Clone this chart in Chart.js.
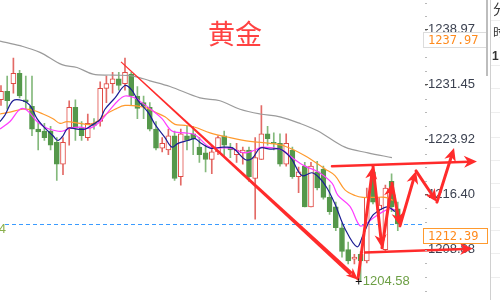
<!DOCTYPE html>
<html>
<head>
<meta charset="utf-8">
<script src="https://cdn.jsdelivr.net/npm/chart.js@4"></script>
<style>
  html, body { margin: 0; padding: 0; background: #fff; }
  #wrap { width: 500px; height: 300px; }
</style>
</head>
<body>
<div id="wrap"><canvas id="kline" width="500" height="300"></canvas></div>
<script>
// candle values, one entry per bar (oldest first)
const opens = [1229.40,1230.57,1231.61,1233.04,1229.40,1228.49,1225.38,1225.12,1225.12,1223.56,
  1220.57,1225.51,1228.36,1225.51,1224.21,1226.16,1226.42,1230.96,1231.61,1232.26,
  1231.61,1232.91,1229.92,1229.01,1228.36,1225.38,1222.78,1222.52,1224.47,1218.88,
  1224.47,1224.73,1222.91,1222.13,1221.22,1222.26,1224.47,1222.91,1221.87,1222.13,
  1222.52,1218.62,1221.22,1224.73,1223.56,1223.43,1220.57,1222.52,1218.88,1220.31,
  1214.73,1219.53,1219.92,1216.03,1214.73,1211.87,1208.88,1207.58,1208.23,1207.32,
  1219.53,1214.34,1208.88,1218.23,1214.47];
const closes = [1230.57,1229.27,1233.04,1229.92,1229.14,1225.38,1224.99,1224.21,1223.17,1220.57,
  1223.56,1228.36,1225.51,1224.47,1226.16,1225.90,1230.96,1231.61,1232.26,1231.35,
  1233.17,1229.92,1228.23,1228.49,1225.38,1222.78,1223.43,1224.47,1218.62,1224.73,
  1223.82,1224.08,1221.87,1221.22,1222.26,1224.21,1223.17,1222.52,1222.52,1222.52,
  1218.88,1221.48,1224.73,1224.08,1223.43,1220.57,1223.43,1218.88,1219.53,1214.73,
  1220.31,1217.32,1216.03,1214.08,1211.87,1208.62,1207.32,1207.84,1207.32,1216.03,
  1215.38,1214.99,1217.32,1214.73,1212.39];
const highs = [1231.35,1232.65,1235.12,1233.43,1232.65,1232.65,1226.42,1226.16,1225.77,1224.21,
  1224.21,1229.27,1229.40,1226.42,1227.45,1226.81,1231.87,1232.65,1233.17,1233.17,
  1235.12,1233.17,1231.22,1229.92,1229.01,1226.42,1224.21,1225.38,1225.12,1225.38,
  1225.77,1225.77,1224.21,1223.17,1223.17,1224.47,1225.12,1223.43,1223.43,1222.91,
  1222.91,1224.21,1228.62,1225.77,1224.86,1224.73,1224.73,1222.91,1220.18,1220.83,
  1220.83,1220.96,1220.31,1217.71,1215.38,1212.52,1209.92,1208.23,1208.62,1217.32,
  1220.05,1216.03,1217.71,1219.27,1215.38];
const lows = [1228.62,1228.10,1230.31,1229.66,1228.10,1224.47,1222.52,1223.82,1222.52,1218.36,
  1219.14,1223.17,1223.82,1223.82,1223.82,1225.38,1225.77,1229.01,1230.31,1230.70,
  1230.70,1228.62,1226.81,1226.81,1225.12,1222.52,1222.26,1221.87,1218.36,1217.71,
  1222.52,1221.87,1220.83,1219.53,1219.27,1221.87,1221.61,1221.48,1220.83,1220.57,
  1218.23,1213.04,1221.22,1223.17,1222.52,1220.31,1220.31,1218.62,1216.68,1214.73,
  1214.73,1217.06,1215.77,1213.69,1211.48,1207.84,1206.93,1206.93,1204.58,1207.06,
  1215.12,1213.69,1208.62,1214.08,1211.48];

// moving averages: [bar position, price]
const ma5 = [[-0.16,1226.42],[0.65,1227.32],[1.94,1229.27],[3.55,1229.27],[4.68,1228.62],[5.81,1226.81],
  [7.10,1225.51],[8.39,1224.47],[9.19,1223.82],[10.0,1224.47],[10.81,1225.51],[12.26,1225.38],
  [13.55,1225.38],[14.84,1226.03],[15.97,1226.68],[16.77,1228.10],[18.39,1229.66],[20.0,1231.35],
  [21.13,1230.70],[22.1,1229.27],[23.71,1227.71],[24.84,1226.03],[26.45,1224.21],[27.58,1222.91],
  [28.55,1223.43],[30.16,1223.82],[31.29,1224.08],[32.1,1223.56],[33.71,1222.78],[35.81,1222.91],
  [37.42,1222.78],[39.36,1221.22],[40.5,1221.35],[41.77,1222.78],[43.39,1222.65],[45.0,1222.65],
  [46.29,1221.87],[46.94,1221.22],[48.55,1219.01],[50.16,1219.40],[51.45,1218.62],[52.58,1217.32],
  [53.87,1215.12],[55.48,1211.74],[57.42,1209.27],[58.39,1210.83],[59.84,1213.43],[61.45,1214.47],
  [62.42,1214.73],[63.55,1214.08]];
const ma10 = [[-0.16,1225.38],[1.45,1226.42],[3.07,1228.10],[4.19,1227.97],[5.81,1226.42],[7.42,1225.51],
  [9.03,1225.12],[10.0,1225.12],[11.13,1225.51],[12.74,1225.64],[14.36,1225.51],[15.97,1226.42],
  [17.26,1227.71],[18.87,1229.27],[20.0,1229.92],[21.61,1229.66],[22.74,1229.01],[24.36,1227.97],
  [25.97,1226.81],[27.58,1225.12],[29.68,1224.86],[31.29,1224.60],[33.71,1222.91],[36.94,1222.78],
  [39.36,1222.13],[40.97,1222.52],[42.1,1222.91],[45.32,1222.52],[46.94,1221.48],[49.03,1220.31],
  [51.13,1219.53],[53.39,1217.97],[54.35,1216.30],[56.29,1214.80],[57.9,1212.13],[59.03,1212.52],
  [60.0,1213.17],[61.61,1214.08],[62.74,1214.47],[63.55,1214.34]];
const ma20 = [[-0.16,1227.45],[1.45,1227.71],[3.55,1228.10],[5.16,1227.97],[6.78,1227.45],[8.39,1226.81],
  [9.52,1226.16],[10.65,1226.42],[12.74,1226.16],[14.36,1226.03],[15.97,1226.68],[16.77,1227.32],
  [18.39,1228.10],[20.0,1228.62],[23.23,1228.36],[24.84,1227.71],[26.45,1227.06],[28.06,1226.03],
  [29.68,1225.90],[31.29,1225.64],[33.71,1224.86],[36.94,1224.21],[40.16,1223.69],[43.39,1223.43],
  [45.81,1223.04],[49.03,1221.74],[52.26,1219.92],[53.87,1219.01],[55.48,1217.06],[57.1,1216.29],
  [58.39,1216.03],[60.32,1216.03],[61.94,1216.03],[63.23,1215.64]];
const ma60 = [[-0.16,1237.45],[3.07,1236.81],[6.29,1235.90],[9.84,1234.21],[12.26,1233.82],[14.84,1232.91],
  [18.07,1232.78],[21.29,1232.65],[24.03,1232.0],[27.26,1231.22],[32.1,1229.66],[35.32,1229.27],
  [38.55,1228.10],[41.77,1227.45],[45.0,1227.06],[48.23,1226.16],[51.13,1225.12],[55.48,1222.91],
  [59.19,1222.13],[63.06,1221.48]];

const yTicks = [1208.88, 1216.40, 1223.92, 1231.45, 1238.97];
const lastPrice = 1212.39;
const refPrice = 1237.97;
const lowPrice = 1204.58;

// hand-drawn arrows, in bar position / price
const trendLine = [[19.36,1234.60],[57.58,1204.73]];
const zigzag = [[57.58,1204.86],[60.0,1220.31],[61.45,1209.14],[63.06,1217.97],[64.35,1212.13],
  [66.94,1219.66],[70.32,1215.38],[73.07,1222.78]];
const upperArrow = [[53.39,1220.31],[76.77,1220.96]];
const lowerArrow = [[58.71,1208.49],[76.13,1209.01]];

const RED = '#e04a44', RED_WICK = '#e36a66';
const GREEN = '#55984b', GREEN_WICK = '#84b97c';
const ARROW = '#ff2b2b';

const isUp = i => closes[i] >= opens[i];
const toPts = arr => arr.map(p => ({ x: p[0], y: p[1] }));

function arrowHead(ctx, x1, y1, x2, y2, len, half) {
    const a = Math.atan2(y2 - y1, x2 - x1);
    const c = Math.cos(a), s = Math.sin(a);
    ctx.beginPath();
    ctx.moveTo(x2, y2);
    ctx.lineTo(x2 - len * c + half * s, y2 - len * s - half * c);
    ctx.lineTo(x2 - len * 0.7 * c, y2 - len * 0.7 * s);
    ctx.lineTo(x2 - len * c - half * s, y2 - len * s + half * c);
    ctx.closePath();
    ctx.fill();
}

function arrowLine(ctx, p1, p2, w) {
    const a = Math.atan2(p2[1] - p1[1], p2[0] - p1[0]);
    const ex = p2[0] - 8 * Math.cos(a), ey = p2[1] - 8 * Math.sin(a);
    ctx.lineWidth = w;
    ctx.beginPath();
    ctx.moveTo(p1[0], p1[1]);
    ctx.lineTo(ex, ey);
    ctx.stroke();
    arrowHead(ctx, p1[0], p1[1], p2[0], p2[1], 13, 6);
}

const overlay = {
    id: 'overlay',
    beforeDatasetsDraw(chart) {
        const { ctx, scales: { x, y } } = chart;
        ctx.save();
        // current price dashed line
        const yy = Math.round(y.getPixelForValue(lastPrice)) + 0.5;
        ctx.strokeStyle = '#3a9bff';
        ctx.lineWidth = 1;
        ctx.setLineDash([4, 3]);
        ctx.beginPath();
        ctx.moveTo(5, yy);
        ctx.lineTo(x.right, yy);
        ctx.stroke();
        ctx.restore();
    },
    afterDatasetsDraw(chart) {
        const { ctx, scales: { x, y } } = chart;
        const P = q => [x.getPixelForValue(q[0]), y.getPixelForValue(q[1])];
        ctx.save();
        ctx.fillStyle = ARROW;
        ctx.strokeStyle = ARROW;
        ctx.lineCap = 'round';
        ctx.lineJoin = 'round';

        // falling trend line, thin to thick
        const a = P(trendLine[0]), b = P(trendLine[1]);
        const ang = Math.atan2(b[1] - a[1], b[0] - a[0]);
        const nx = -Math.sin(ang), ny = Math.cos(ang);
        const bx = b[0] - 9 * Math.cos(ang), by = b[1] - 9 * Math.sin(ang);
        ctx.beginPath();
        ctx.moveTo(a[0] + nx * 0.6, a[1] + ny * 0.6);
        ctx.lineTo(bx + nx * 2.2, by + ny * 2.2);
        ctx.lineTo(bx - nx * 2.2, by - ny * 2.2);
        ctx.lineTo(a[0] - nx * 0.6, a[1] - ny * 0.6);
        ctx.closePath();
        ctx.fill();
        arrowHead(ctx, a[0], a[1], b[0], b[1], 12, 5);

        // zigzag projection
        for (let k = 1; k < zigzag.length; k++) {
            arrowLine(ctx, P(zigzag[k - 1]), P(zigzag[k]), 3);
        }
        arrowLine(ctx, P(upperArrow[0]), P(upperArrow[1]), 2.5);
        arrowLine(ctx, P(lowerArrow[0]), P(lowerArrow[1]), 2.5);
        ctx.restore();

        // low marker
        ctx.save();
        const lx = x.getPixelForValue(57.7), ly = Math.round(y.getPixelForValue(lowPrice)) + 0.5;
        ctx.strokeStyle = '#111';
        ctx.lineWidth = 1;
        ctx.beginPath();
        ctx.moveTo(lx - 3, ly); ctx.lineTo(lx + 3, ly);
        ctx.moveTo(lx, ly - 3); ctx.lineTo(lx, ly + 3);
        ctx.stroke();
        ctx.fillStyle = '#6d9f45';
        ctx.font = '13px "Liberation Sans", Arial, sans-serif';
        ctx.textBaseline = 'middle';
        ctx.fillText(lowPrice.toFixed(2), lx + 4, ly);
        ctx.fillStyle = '#8ab04c';
        ctx.textAlign = 'right';
        ctx.fillText('1204', 6, y.getPixelForValue(lastPrice) + 5);
        ctx.restore();
    },
    afterDraw(chart) {
        const { ctx, scales: { y } } = chart;
        ctx.save();
        // minor tick dots on the price axis
        ctx.strokeStyle = '#b8b8b8';
        ctx.lineWidth = 1;
        const step = (yTicks[1] - yTicks[0]) / 4;
        for (let v = yTicks[0] - step * 4; v < 1243; v += step) {
            const py = Math.round(y.getPixelForValue(v)) + 0.5;
            ctx.beginPath();
            ctx.moveTo(y.left, py);
            ctx.lineTo(y.left + 2, py);
            ctx.stroke();
        }

        // price boxes
        ctx.font = '12px "DejaVu Sans Mono", monospace';
        ctx.textBaseline = 'middle';
        const box = (val, top, border) => {
            ctx.fillStyle = '#fff';
            ctx.fillRect(423.5, top + 0.5, 64, 15);
            ctx.strokeStyle = border;
            ctx.strokeRect(423.5, top + 0.5, 64, 15);
            ctx.fillStyle = '#ff8a1c';
            ctx.fillText(val.toFixed(2), 428, top + 8.5);
        };
        box(refPrice, 32, '#dcdcdc');
        box(lastPrice, 228, '#ff9a2e');

        // right side panel
        ctx.strokeStyle = '#d0d0d0';
        ctx.beginPath();
        ctx.moveTo(490.5, 0); ctx.lineTo(490.5, 300);
        ctx.stroke();
        ctx.strokeStyle = '#eeeeee';
        [20, 65, 88, 112, 137, 160, 183, 207, 230, 253, 277].forEach(h => {
            ctx.beginPath();
            ctx.moveTo(491, h + 0.5); ctx.lineTo(500, h + 0.5);
            ctx.stroke();
        });
        ctx.fillStyle = '#bdbdbd';
        ctx.fillRect(486, 0, 2, 76);
        ctx.fillStyle = '#333';
        ctx.font = '14px "Noto Sans CJK SC", sans-serif';
        ctx.fillText('分', 493, 9);
        ctx.font = '12px "Noto Sans CJK SC", sans-serif';
        ctx.fillText('时', 493, 32);
        ctx.font = 'bold 12px "Liberation Sans", Arial, sans-serif';
        ctx.fillText('1', 492, 57);

        // title
        ctx.fillStyle = '#ff4242';
        ctx.font = '27px "Noto Sans CJK SC", sans-serif';
        ctx.textAlign = 'center';
        ctx.fillText('黄金', 235, 34);
        ctx.restore();
    }
};

const wickData = opens.map((o, i) => ({ x: i, y: [lows[i], highs[i]] }));
const bodyData = opens.map((o, i) => ({ x: i, y: [o, closes[i]] }));
const maLine = (data, color, order) => ({
    type: 'line', data: toPts(data), borderColor: color, borderWidth: 1.2,
    pointRadius: 0, tension: 0.35, order: order
});

new Chart(document.getElementById('kline').getContext('2d'), {
    type: 'bar',
    data: {
        datasets: [
            {
                data: wickData, grouped: false, barThickness: 1, order: 6,
                backgroundColor: c => isUp(c.dataIndex) ? RED_WICK : GREEN_WICK
            },
            {
                data: bodyData, grouped: false, barThickness: 5, order: 5,
                minBarLength: 1, borderSkipped: false, borderWidth: 1,
                backgroundColor: c => isUp(c.dataIndex) ? '#ffffff' : GREEN,
                borderColor: c => isUp(c.dataIndex) ? RED : GREEN
            },
            maLine(ma60, '#9b9b9b', 4),
            maLine(ma20, '#ff9a2e', 3),
            maLine(ma10, '#ff3cff', 2),
            maLine(ma5, '#1c1c94', 1)
        ]
    },
    options: {
        responsive: false,
        animation: false,
        layout: { padding: 0 },
        plugins: { legend: { display: false }, tooltip: { enabled: false } },
        scales: {
            x: {
                type: 'linear', min: -0.16, max: 68.39, offset: false, display: false
            },
            y: {
                position: 'right',
                min: 1203.04,
                max: 1242.0,
                afterFit: s => { s.width = 75; },
                afterBuildTicks: s => { s.ticks = yTicks.map(v => ({ value: v })); },
                border: { display: false },
                grid: { drawOnChartArea: false, tickLength: 3, color: '#555' },
                ticks: {
                    padding: 0,
                    color: '#3b4150',
                    font: { family: '"Liberation Sans", Arial, sans-serif', size: 13 },
                    callback: v => v.toFixed(2)
                }
            }
        }
    },
    plugins: [overlay]
});
</script>
</body>
</html>
